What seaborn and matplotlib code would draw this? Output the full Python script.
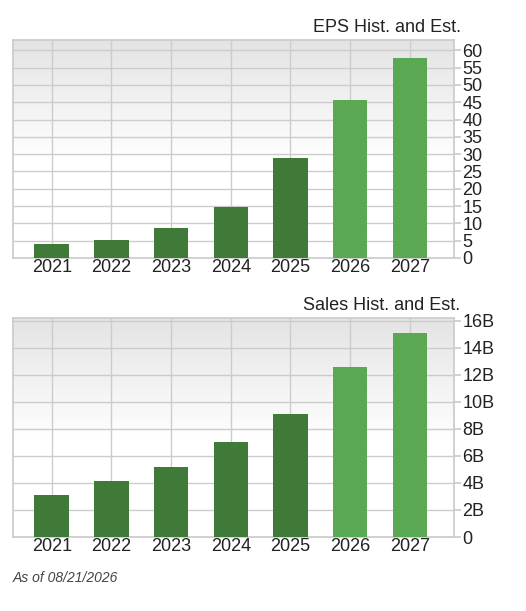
import matplotlib
matplotlib.use("Agg")
import matplotlib.pyplot as plt
import numpy as np
import pandas as pd
import seaborn as sns

years = ["2021", "2022", "2023", "2024", "2025", "2026", "2027"]
eps = [4.0, 5.3, 8.7, 14.6, 28.8, 45.8, 57.8]
sales_b = [3.1, 4.15, 5.2, 7.0, 9.1, 12.57, 15.07]
estimate = [False, False, False, False, False, True, True]
eps_ticks = list(range(0, 65, 5))
sales_ticks = [0, 2, 4, 6, 8, 10, 12, 14, 16]
sales_labels = ["0", "2B", "4B", "6B", "8B", "10B", "12B", "14B", "16B"]

sns.set_theme(style="white")
plt.rcParams['font.family'] = ['Liberation Sans', 'DejaVu Sans']
dark, light = "#3f7a38", "#5aa853"
palette = [light if e else dark for e in estimate]

fig = plt.figure(figsize=(5.26, 6.11), dpi=100)
ax1 = fig.add_axes([13/526, 1-258/611, 441/526, 218/611])
ax2 = fig.add_axes([13/526, 1-537/611, 441/526, 219/611])

grad = np.linspace(0, 1, 256).reshape(-1, 1)
grad = np.clip(grad * 1.8, 0, 1)
cmap = matplotlib.colors.LinearSegmentedColormap.from_list("g", ["#e4e4e4", "#ffffff"])

def style(ax, vals, ticks, labels, ymax, title):
    df = pd.DataFrame({"year": years, "v": vals})
    sns.barplot(data=df, x="year", y="v", hue="year", palette=palette,
                legend=False, width=0.58, ax=ax, saturation=1, zorder=3,
                edgecolor="none", linewidth=0)
    ax.imshow(grad, cmap=cmap, aspect="auto", extent=[-0.65, 6.74, 0, ymax],
              zorder=0, origin="upper")
    ax.set_xlim(-0.65, 6.74)
    ax.set_ylim(0, ymax)
    ax.set_yticks(ticks)
    ax.set_yticklabels(labels)
    ax.yaxis.tick_right()
    ax.grid(True, color="#cccccc", linewidth=1, zorder=1)
    ax.set_axisbelow(True)
    for s in ax.spines.values():
        s.set_color("#cccccc")
    ax.tick_params(axis="both", labelsize=13, colors="#222222", length=0, pad=1)
    ax.tick_params(axis="y", length=5, color="#cccccc", direction="out", right=True)
    ax.set_xlabel("")
    ax.set_ylabel("")
    ax.set_title(title, loc="right", fontsize=13, color="#222222", pad=6, x=1.015)

style(ax1, eps, eps_ticks, [str(t) for t in eps_ticks], 63, "EPS Hist. and Est.")
style(ax2, sales_b, sales_ticks, sales_labels, 16.2, "Sales Hist. and Est.")
fig.text(13/526, 1-578/611, "As of 08/21/2026", fontsize=10, style="italic", color="#444444", va="center")
fig.savefig("out.png", dpi=100)
